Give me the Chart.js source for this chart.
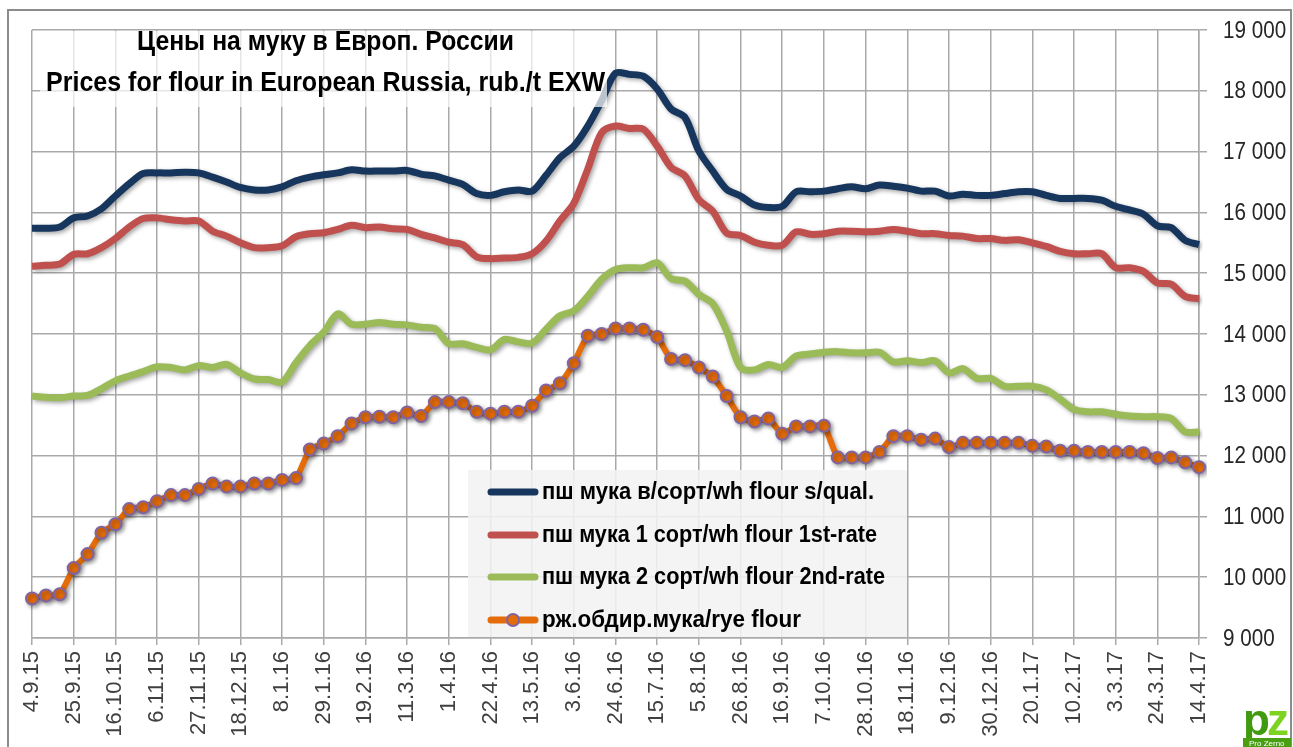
<!DOCTYPE html>
<html>
<head>
<meta charset="utf-8">
<script src="https://cdn.jsdelivr.net/npm/chart.js@4.4.1/dist/chart.umd.min.js"></script>
<style>
  body { margin: 0; background: #fff; }
  #wrap { width: 1293px; height: 747px; }
</style>
</head>
<body>
<div id="wrap"><canvas id="cv" width="1293" height="747"></canvas></div>
<script>
// x axis: weekly prices, a label every 3rd week
const tickLabels = ['4.9.15','25.9.15','16.10.15','6.11.15','27.11.15','18.12.15','8.1.16','29.1.16','19.2.16',
  '11.3.16','1.4.16','22.4.16','13.5.16','3.6.16','24.6.16','15.7.16','5.8.16','26.8.16','16.9.16','7.10.16',
  '28.10.16','18.11.16','9.12.16','30.12.16','20.1.17','10.2.17','3.3.17','24.3.17','14.4.17'];

const seriesNames = ['пш мука в/сорт/wh flour s/qual.', 'пш мука 1 сорт/wh flour 1st-rate',
  'пш мука 2 сорт/wh flour 2nd-rate', 'рж.обдир.мука/rye flour'];

const flourTop = [15740,15740,15760,15910,15940,16060,16270,16470,16640,16650,16650,16660,16650,16580,16500,16410,
  16370,16370,16420,16520,16580,16620,16650,16700,16680,16680,16680,16690,16630,16600,16530,16460,16310,16280,16340,
  16370,16350,16610,16900,17090,17420,17840,18290,18270,18240,18030,17700,17560,17010,16680,16380,16270,16120,16080,
  16100,16340,16340,16350,16390,16420,16390,16450,16430,16400,16350,16350,16270,16300,16280,16280,16310,16340,16340,
  16280,16230,16230,16230,16200,16100,16040,15970,15780,15750,15540,15470];

const flour1 = [15115,15130,15150,15310,15320,15420,15570,15760,15900,15910,15880,15860,15860,15690,15610,15500,
  15420,15420,15450,15600,15650,15665,15720,15790,15750,15760,15730,15720,15640,15580,15510,15470,15270,15240,15250,
  15260,15320,15530,15860,16150,16710,17310,17420,17380,17370,17090,16740,16600,16210,16020,15660,15620,15510,15460,
  15460,15680,15640,15650,15690,15690,15680,15690,15720,15690,15650,15650,15620,15610,15570,15570,15540,15550,15500,
  15440,15360,15320,15320,15320,15090,15090,15030,14840,14820,14620,14580];

const flour2 = [12980,12960,12950,12980,12990,13100,13230,13310,13380,13460,13450,13410,13480,13450,13500,13360,
  13260,13250,13210,13530,13810,14030,14330,14160,14160,14190,14160,14150,14110,14090,13840,13840,13780,13740,13910,
  13870,13850,14080,14300,14380,14620,14900,15060,15090,15090,15170,14910,14870,14650,14500,14050,13450,13410,13500,
  13450,13640,13670,13700,13710,13690,13690,13700,13540,13560,13530,13560,13360,13430,13270,13270,13140,13140,13140,
  13080,12930,12760,12720,12720,12680,12650,12640,12640,12610,12390,12390];

const ryeFlour = [9650,9700,9720,10150,10380,10730,10870,11120,11150,11250,11350,11350,11450,11540,11490,11490,
  11540,11540,11600,11630,12100,12200,12320,12530,12630,12640,12630,12710,12650,12880,12880,12860,12720,12690,12720,
  12720,12820,13070,13190,13520,13970,14000,14090,14090,14070,13950,13590,13570,13450,13300,12980,12630,12560,12610,
  12360,12480,12480,12490,11970,11970,11970,12060,12320,12320,12260,12280,12140,12210,12210,12210,12210,12210,12160,
  12150,12080,12080,12060,12060,12060,12060,12040,11960,11970,11890,11810];

const weeks = [];
const start = new Date(2015, 8, 4);
for (let i = 0; i < flourTop.length; i++) {
  const d = new Date(start.getTime() + i * 7 * 86400000);
  weeks.push(d.getDate() + '.' + (d.getMonth() + 1) + '.' + String(d.getFullYear()).slice(2));
}

const colors = ['#17365d', '#c0504d', '#9bbb59', '#e46c0a'];
const markerBorder = '#8064a2';
const gridColor = '#a9a9a9';

function fitText(c, text, x, y, width, font) {
  c.font = font;
  const w = c.measureText(text).width;
  c.save();
  c.translate(x, y);
  c.scale(width / w, 1);
  c.fillText(text, 0, 0);
  c.restore();
}

function squeezeText(c, text, x, y, k, font) {
  c.font = font;
  c.save();
  c.translate(x, y);
  c.scale(k, 1);
  c.fillText(text, 0, 0);
  c.restore();
}

const fmt = (v) => String(v).replace(/\B(?=(\d{3})+(?!\d))/g, ' ');

const shadow = {
  id: 'shadow',
  beforeDatasetsDraw(chart) {
    const c = chart.ctx;
    c.save();
    c.shadowColor = 'rgba(0,0,0,0.35)';
    c.shadowBlur = 4;
    c.shadowOffsetX = 2;
    c.shadowOffsetY = 2;
  },
  afterDatasetsDraw(chart) { chart.ctx.restore(); }
};

const overlay = {
  id: 'overlay',
  beforeDraw(chart) {
    const c = chart.ctx;
    c.save();
    c.fillStyle = '#fff';
    c.fillRect(0, 0, chart.width, chart.height);
    c.strokeStyle = '#8c8c8c';
    c.lineWidth = 2;
    c.strokeRect(8, 10, 1283, 900);
    c.restore();
  },
  afterDraw(chart) {
    const c = chart.ctx;
    c.save();
    // y tick labels, slightly condensed
    const ys = chart.scales.y;
    c.fillStyle = '#262626';
    c.textBaseline = 'middle';
    ys.ticks.forEach((t) => {
      squeezeText(c, fmt(t.value), 1223, ys.getPixelForValue(t.value) + 1, 0.86, '24px "Liberation Sans", Arial, sans-serif');
    });

    // title
    c.fillStyle = 'rgba(255,255,255,0.7)';
    c.fillRect(40, 31, 567, 76);
    c.fillStyle = '#000';
    c.textBaseline = 'alphabetic';
    fitText(c, 'Цены на муку в Европ. России', 137, 50, 377, 'bold 28px "Liberation Sans", sans-serif');
    fitText(c, 'Prices for flour in European Russia, rub./t EXW', 46, 91, 559, 'bold 28px "Liberation Sans", sans-serif');

    // legend
    c.fillStyle = 'rgba(242,242,242,0.88)';
    c.fillRect(468, 470, 439, 167);
    const rows = [492, 535, 577, 620];
    const ends = [874, 877, 885, 801];
    rows.forEach((y, i) => {
      c.lineCap = 'round';
      c.strokeStyle = colors[i];
      c.lineWidth = 7;
      c.beginPath(); c.moveTo(491, y); c.lineTo(535, y); c.stroke();
      if (i === 3) {
        c.beginPath(); c.arc(513, y, 6, 0, Math.PI * 2);
        c.fillStyle = colors[3]; c.fill();
        c.lineWidth = 2; c.strokeStyle = markerBorder; c.stroke();
      }
      c.fillStyle = '#000';
      c.textBaseline = 'middle';
      fitText(c, seriesNames[i], 542, y + 1, ends[i] - 542, 'bold 23px "Liberation Sans", sans-serif');
    });

    // logo
    c.textBaseline = 'alphabetic';
    c.font = 'bold 44px "Liberation Sans", sans-serif';
    c.fillStyle = '#3f9a0f';
    c.fillText('p', 1243, 735);
    c.fillStyle = '#7ed321';
    c.fillText('z', 1267, 735);
    c.fillStyle = '#4a9e12';
    c.fillRect(1243, 738, 48, 9);
    c.fillStyle = '#fff';
    c.font = '8px "Liberation Sans", sans-serif';
    c.fillText('Pro Zerno', 1249, 746);
    c.restore();
  }
};

new Chart(document.getElementById('cv'), {
  type: 'line',
  data: {
    labels: weeks,
    datasets: [
      { label: seriesNames[0], data: flourTop, borderColor: colors[0], borderWidth: 7, pointRadius: 0, tension: 0.3 },
      { label: seriesNames[1], data: flour1, borderColor: colors[1], borderWidth: 7, pointRadius: 0, tension: 0.3 },
      { label: seriesNames[2], data: flour2, borderColor: colors[2], borderWidth: 7, pointRadius: 0, tension: 0.3 },
      { label: seriesNames[3], data: ryeFlour, borderColor: colors[3], borderWidth: 6, tension: 0.2,
        pointRadius: 6, pointBackgroundColor: colors[3], pointBorderColor: markerBorder, pointBorderWidth: 2 }
    ]
  },
  options: {
    responsive: false,
    animation: false,
    layout: { padding: { left: 32, top: 30, right: 0, bottom: 0 } },
    plugins: { legend: { display: false }, tooltip: { enabled: false } },
    scales: {
      x: {
        grid: {
          color: (ctx) => ctx.index % 3 === 0 ? gridColor : 'rgba(0,0,0,0)',
          lineWidth: 1.5,
          tickLength: 7
        },
        border: { color: gridColor, width: 1.5 },
        ticks: {
          autoSkip: false,
          minRotation: 90,
          maxRotation: 90,
          padding: 6,
          color: '#404040',
          font: { family: '"Liberation Sans", Arial, sans-serif', size: 22 },
          callback: (v, i) => i % 3 === 0 ? tickLabels[i / 3] : ''
        },
        afterFit: (s) => { s.height = 109; }
      },
      y: {
        position: 'right',
        min: 9000,
        max: 19000,
        grid: { color: gridColor, lineWidth: 1.5, tickLength: 8 },
        border: { color: gridColor, width: 1.5 },
        ticks: {
          stepSize: 1000,
          padding: 15,
          color: 'rgba(0,0,0,0)',
          font: { family: '"Liberation Sans", Arial, sans-serif', size: 20 },
          callback: fmt
        },
        afterFit: (s) => { s.width = 94; }
      }
    }
  },
  plugins: [overlay, shadow]
});
</script>
</body>
</html>
